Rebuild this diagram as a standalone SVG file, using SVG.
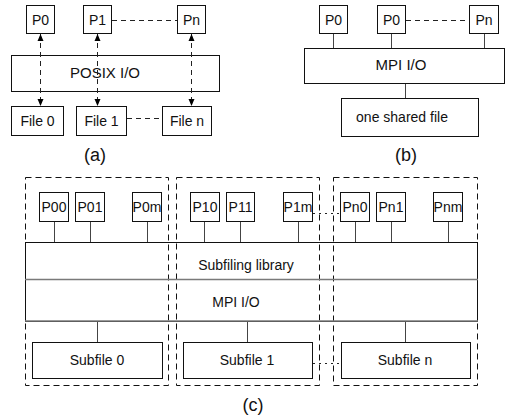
<svg xmlns="http://www.w3.org/2000/svg" width="505" height="416" viewBox="0 0 505 416">
<defs>
<marker id="ah" markerWidth="8" markerHeight="8" refX="7" refY="3" orient="auto-start-reverse" markerUnits="userSpaceOnUse" viewBox="0 0 8 6">
<path d="M0,0 L7,3 L0,6 z" fill="#000"/>
</marker>
<style>
rect.b{fill:#fff;stroke:#111;stroke-width:1}
rect.o{fill:none;stroke:#111;stroke-width:1}
text{font-family:"Liberation Sans",Arial,sans-serif;font-size:14px;fill:#111;text-anchor:middle}
text.big{font-size:15px}
text.cap{font-size:18px}
.ln{stroke:#444;stroke-width:1;fill:none}
.dash{stroke:#222;stroke-width:1;stroke-dasharray:5,4;fill:none}
.grp{stroke:#111;stroke-width:1;stroke-dasharray:6,4;fill:none}
.dot{stroke:#222;stroke-width:1;stroke-dasharray:2,4;fill:none}
.sep{stroke:#7a7a7a;stroke-width:1.6;fill:none}
</style>
</defs>

<!-- (a) -->
<g id="a-P0"><rect class="b" x="26.5" y="5.5" width="28" height="28"/><text x="40.5" y="24.5">P0</text></g>
<g id="a-P1"><rect class="b" x="83.5" y="5.5" width="28" height="28"/><text x="97.5" y="24.5">P1</text></g>
<g id="a-Pn"><rect class="b" x="177.5" y="5.5" width="28" height="28"/><text x="191.5" y="24.5">Pn</text></g>
<g id="a-posix"><rect class="b" x="11.5" y="55.5" width="208" height="36"/><text class="big" x="105" y="77.5">POSIX I/O</text></g>
<g id="a-File0"><rect class="b" x="11.5" y="106.5" width="52" height="29"/><text x="37.5" y="125.5">File 0</text></g>
<g id="a-File1"><rect class="b" x="76.5" y="106.5" width="50" height="29"/><text x="101.5" y="125.5">File 1</text></g>
<g id="a-Filen"><rect class="b" x="162.5" y="106.5" width="49" height="29"/><text x="187" y="125.5">File n</text></g>
<text class="cap" x="95" y="161">(a)</text>

<!-- (b) -->
<g id="b-P0a"><rect class="b" x="319.5" y="5.5" width="28" height="28"/><text x="333.5" y="24.5">P0</text></g>
<g id="b-P0b"><rect class="b" x="377.5" y="5.5" width="28" height="28"/><text x="391.5" y="24.5">P0</text></g>
<g id="b-Pn"><rect class="b" x="469.5" y="5.5" width="29" height="28"/><text x="484" y="24.5">Pn</text></g>
<g id="b-mpi"><rect class="b" x="304.5" y="48.5" width="200" height="35"/><text class="big" x="401" y="70">MPI I/O</text></g>
<g id="b-shared"><rect class="b" x="341.5" y="98.5" width="137" height="38"/><text x="402" y="122">one shared file</text></g>
<text class="cap" x="406" y="161">(b)</text>

<!-- (c) -->
<g id="c-groups">
<rect class="grp" x="25.5" y="177.5" width="143" height="208"/>
<rect class="grp" x="176.5" y="177.5" width="143" height="208"/>
<rect class="grp" x="333.5" y="177.5" width="144" height="208"/>
</g>
<g id="c-layers">
<rect class="o" x="25.5" y="242.5" width="452" height="79"/>
<line class="sep" x1="25" y1="279.5" x2="478" y2="279.5"/>
<line class="sep" x1="25" y1="321" x2="478" y2="321"/>
<text x="246" y="270">Subfiling library</text>
<text x="236" y="307">MPI I/O</text>
</g>
<g id="c-P00"><rect class="b" x="39.5" y="192.5" width="29" height="29"/><text x="54" y="211.5">P00</text></g>
<g id="c-P01"><rect class="b" x="75.5" y="192.5" width="29" height="29"/><text x="90" y="211.5">P01</text></g>
<g id="c-P0m"><rect class="b" x="132.5" y="192.5" width="29" height="29"/><text x="147" y="211.5">P0m</text></g>
<g id="c-P10"><rect class="b" x="190.5" y="192.5" width="29" height="29"/><text x="205" y="211.5">P10</text></g>
<g id="c-P11"><rect class="b" x="226.5" y="192.5" width="28" height="29"/><text x="240.5" y="211.5">P11</text></g>
<g id="c-P1m"><rect class="b" x="283.5" y="192.5" width="29" height="29"/><text x="298" y="211.5">P1m</text></g>
<g id="c-Pn0"><rect class="b" x="340.5" y="192.5" width="29" height="29"/><text x="355" y="211.5">Pn0</text></g>
<g id="c-Pn1"><rect class="b" x="376.5" y="192.5" width="29" height="29"/><text x="391" y="211.5">Pn1</text></g>
<g id="c-Pnm"><rect class="b" x="433.5" y="192.5" width="29" height="29"/><text x="448" y="211.5">Pnm</text></g>
<g id="c-Sub0"><rect class="b" x="32.5" y="342.5" width="130" height="36"/><text x="97" y="365">Subfile 0</text></g>
<g id="c-Sub1"><rect class="b" x="183.5" y="342.5" width="129" height="36"/><text x="247" y="365">Subfile 1</text></g>
<g id="c-Subn"><rect class="b" x="341.5" y="342.5" width="129" height="36"/><text x="405" y="365">Subfile n</text></g>
<text class="cap" x="253" y="411">(c)</text>

<!-- connectors -->
<g id="connectors">
<line class="dash" x1="40.5" y1="34" x2="40.5" y2="106" marker-start="url(#ah)" marker-end="url(#ah)"/>
<line class="dash" x1="97.5" y1="34" x2="97.5" y2="106" marker-start="url(#ah)" marker-end="url(#ah)"/>
<line class="dash" x1="191.5" y1="34" x2="191.5" y2="106" marker-start="url(#ah)" marker-end="url(#ah)"/>
<line class="dash" x1="112" y1="20.5" x2="177" y2="20.5"/>
<line class="dash" x1="127" y1="118.5" x2="162" y2="118.5"/>

<line class="ln" x1="333.5" y1="34" x2="333.5" y2="48"/>
<line class="ln" x1="391.5" y1="34" x2="391.5" y2="48"/>
<line class="ln" x1="484.5" y1="34" x2="484.5" y2="48"/>
<line class="ln" x1="405.5" y1="84" x2="405.5" y2="98"/>
<line class="dash" x1="406" y1="20.5" x2="469" y2="20.5"/>

<line class="ln" x1="54.5" y1="222" x2="54.5" y2="242"/>
<line class="ln" x1="90.5" y1="222" x2="90.5" y2="242"/>
<line class="ln" x1="147.5" y1="222" x2="147.5" y2="242"/>
<line class="ln" x1="204.5" y1="222" x2="204.5" y2="242"/>
<line class="ln" x1="240.5" y1="222" x2="240.5" y2="242"/>
<line class="ln" x1="298.5" y1="222" x2="298.5" y2="242"/>
<line class="ln" x1="355.5" y1="222" x2="355.5" y2="242"/>
<line class="ln" x1="391.5" y1="222" x2="391.5" y2="242"/>
<line class="ln" x1="448.5" y1="222" x2="448.5" y2="242"/>
<line class="ln" x1="97.5" y1="322" x2="97.5" y2="342"/>
<line class="ln" x1="247.5" y1="322" x2="247.5" y2="342"/>
<line class="ln" x1="405.5" y1="322" x2="405.5" y2="342"/>
<line class="dot" x1="313" y1="213.5" x2="340" y2="213.5"/>
<line class="dot" x1="313" y1="363.5" x2="341" y2="363.5"/>
</g>
</svg>
